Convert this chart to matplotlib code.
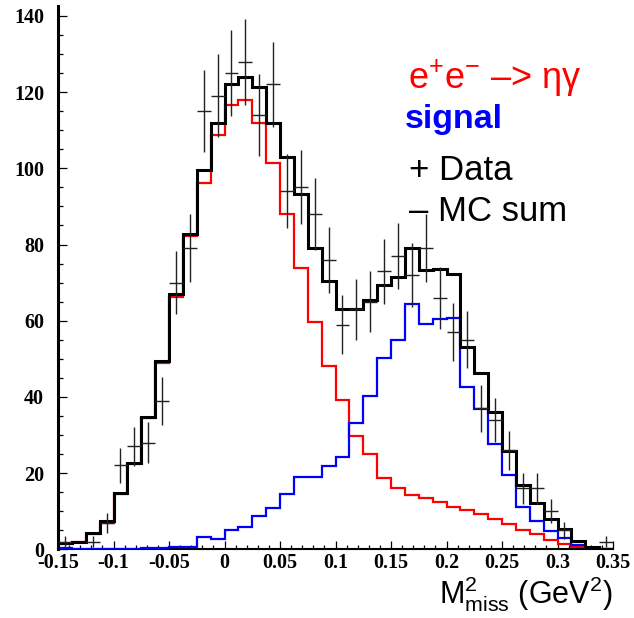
import numpy as np
import matplotlib
matplotlib.use("Agg")
import matplotlib.pyplot as plt
from matplotlib.ticker import MultipleLocator, FuncFormatter

plt.rcParams["mathtext.fontset"] = "custom"
plt.rcParams["mathtext.rm"] = "Liberation Sans"
plt.rcParams["mathtext.it"] = "Liberation Sans:italic"
plt.rcParams["mathtext.bf"] = "Liberation Sans:bold"

# ---- data (40 bins from -0.15 to 0.35 GeV^2) ----
x_min, x_max, n_bins = -0.15, 0.35, 40

eeg_bkg = [1.4, 2.0, 4.0, 7.0, 14.5, 22.4, 34.5, 49.0, 66.3, 82.2,
           96.1, 108.7, 116.5, 117.8, 112.0, 101.3, 87.9, 73.8, 59.7, 48.2,
           39.2, 29.8, 24.9, 18.8, 16.2, 14.3, 13.4, 12.5, 11.2, 10.3,
           9.2, 8.0, 6.6, 5.1, 4.0, 2.4, 1.3, 0.5, 0.3, 0.0]

signal = [0.3, 0.0, 0.0, 0.1, 0.2, 0.2, 0.3, 0.4, 0.5, 0.5,
          3.1, 2.8, 5.1, 5.9, 8.7, 10.8, 14.5, 18.9, 19.1, 21.9,
          24.1, 33.2, 40.3, 50.1, 55.0, 64.4, 59.1, 60.4, 60.7, 42.5,
          36.8, 27.6, 19.6, 11.2, 7.4, 4.8, 3.0, 1.1, 0.3, 0.0]

mc_sum = [1.7, 2.0, 4.2, 7.4, 14.7, 22.7, 34.8, 49.5, 67.0, 82.8,
          99.6, 112.0, 122.1, 124.0, 121.3, 112.0, 103.0, 93.3, 79.0, 70.5,
          63.0, 63.0, 65.5, 69.4, 71.4, 79.1, 73.2, 73.7, 72.3, 53.2,
          46.4, 36.0, 25.8, 16.8, 12.1, 8.0, 5.2, 2.2, 0.6, 0.0]

data_counts = [2, np.nan, 2, 7, 22, 27, 28, 39, 70, 79,
               115, 119, 125, 128, 114, 122, 94, 95, 88, 76,
               59, 63, 65, 73, 77, 72, 79, 66, 57, 55,
               37, 34, 26, 16, 16, 10, 5, np.nan, np.nan, 2]

x_ticklabels_fmt = "{:g}"

# ---- figure ----
W, H = 634, 618
fig = plt.figure(figsize=(W / 100, H / 100), dpi=100)
ax = fig.add_axes([58 / W, 1 - 549.3 / H, (613 - 58) / W, (549.3 - 6) / H])

edges = np.linspace(x_min, x_max, n_bins + 1)
centers = 0.5 * (edges[:-1] + edges[1:])
half_w = 0.5 * (edges[1] - edges[0])

ax.stairs(eeg_bkg, edges, color="#ff0000", lw=1.6, zorder=2)
ax.stairs(signal, edges, color="#0000ff", lw=1.6, zorder=3)
ax.stairs(mc_sum, edges, color="black", lw=2.2, zorder=4)

d = np.array(data_counts, dtype=float)
ax.errorbar(centers, d, yerr=np.sqrt(d), xerr=half_w, fmt="none",
            ecolor="#222222", elinewidth=1.0, capsize=0, zorder=5)

ax.set_xlim(x_min, x_max)
ax.set_ylim(0, 142.6)

for s in ("top", "right"):
    ax.spines[s].set_visible(False)
ax.spines["left"].set_linewidth(2.2)
ax.spines["bottom"].set_linewidth(1.5)

ax.xaxis.set_major_locator(MultipleLocator(0.05))
ax.xaxis.set_minor_locator(MultipleLocator(0.01))
ax.yaxis.set_major_locator(MultipleLocator(20))
ax.yaxis.set_minor_locator(MultipleLocator(5))
ax.xaxis.set_major_formatter(FuncFormatter(lambda v, p: x_ticklabels_fmt.format(round(v, 3)).replace("−", "-")))
ax.yaxis.set_major_formatter(FuncFormatter(lambda v, p: "{:g}".format(v)))

ax.tick_params(axis="both", which="both", direction="in", top=False, right=False)
ax.tick_params(axis="y", which="major", length=6.5, width=0.9, pad=10)
ax.tick_params(axis="y", which="minor", length=3.6, width=0.9)
ax.tick_params(axis="x", which="major", length=5.8, width=0.9, pad=3)
ax.tick_params(axis="x", which="minor", length=2.9, width=0.9)
for lab in ax.get_xticklabels() + ax.get_yticklabels():
    lab.set_fontfamily("Liberation Serif")
    lab.set_fontweight("bold")
    lab.set_fontsize(14.5)

# axis title
fig.text(612 / W, 1 - 604 / H, r"M$^{2}_{\mathrm{miss}}$ (GeV$^{2}$)",
         ha="right", va="baseline", fontsize=22, family="Liberation Sans")

# legend-like labels
sans = ["Liberation Sans", "DejaVu Sans"]
fig.text(408 / W, 1 - 89 / H, r"e$^{+}$e$^{-}$ –> ηγ", color="#ff0000",
         fontsize=26, family=sans, ha="left", va="baseline")
fig.text(405 / W, 1 - 128 / H, "signal", color="#0000ff",
         fontsize=24.5, family=sans, weight="bold", ha="left", va="baseline")
fig.text(409 / W, 1 - 180 / H, "+ Data", color="black",
         fontsize=25, family=sans, ha="left", va="baseline")
fig.text(409 / W, 1 - 221 / H, "– MC sum", color="black",
         fontsize=25, family=sans, ha="left", va="baseline")

fig.savefig("out.png", dpi=100)
